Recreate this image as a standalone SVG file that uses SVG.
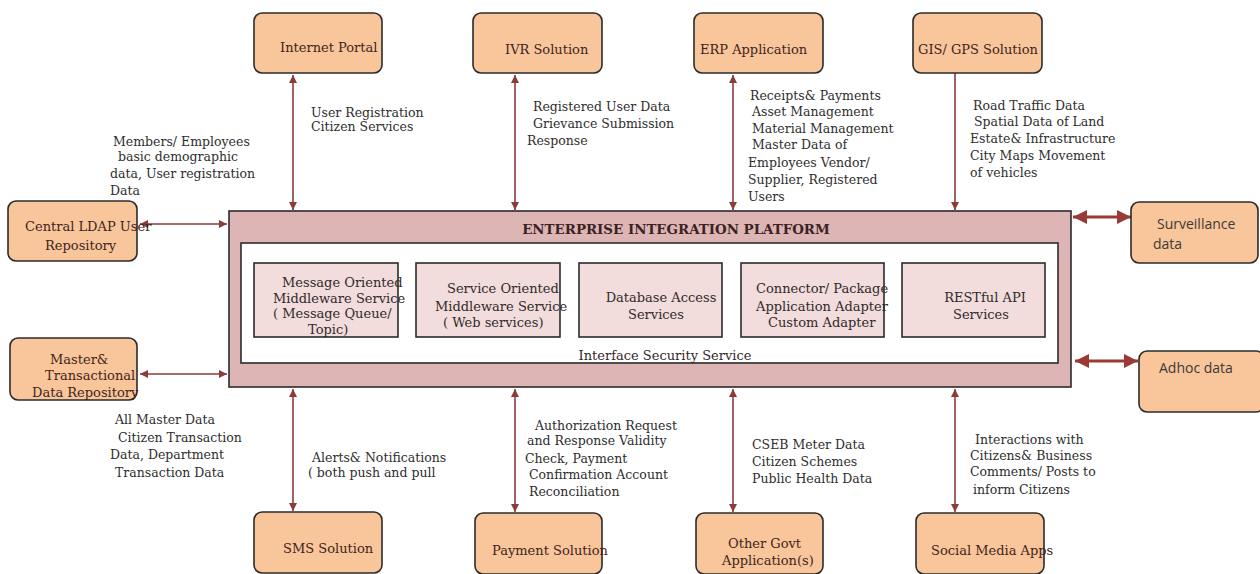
<svg xmlns="http://www.w3.org/2000/svg" width="1260" height="574" viewBox="0 0 1260 574">
<defs>
<style>
.box{fill:#f9c59b;stroke:#2b2b2b;stroke-width:1.6}
.nt{font-family:"DejaVu Serif","Liberation Serif",serif;font-size:13px;fill:#3e241c}
.lb{font-family:"DejaVu Serif","Liberation Serif",serif;font-size:12.5px;fill:#2e2e2e}
.st{font-family:"DejaVu Serif","Liberation Serif",serif;font-size:13px;fill:#302a2a}
.sans{font-family:"Open Sans","Liberation Sans",sans-serif;font-size:14px;fill:#3a3a3a}
.plat{fill:#ddb5b5;stroke:#2b2b2b;stroke-width:1.6}
.inner{fill:#ffffff;stroke:#2b2b2b;stroke-width:1.6}
.svc{fill:#f2dcdc;stroke:#2b2b2b;stroke-width:1.6}
.ln{stroke:#8c3b3b;stroke-width:1.6;fill:none}
.lnb{stroke:#9a3a34;stroke-width:3.2;fill:none}
</style>
<marker id="ah" viewBox="0 0 10 10" refX="10" refY="5" markerWidth="8" markerHeight="9" markerUnits="userSpaceOnUse" orient="auto-start-reverse">
<path d="M0,0 L10,5 L0,10 z" fill="#8c3b3b"/>
</marker>
<marker id="ahb" viewBox="0 0 10 10" refX="10" refY="5" markerWidth="14" markerHeight="14" markerUnits="userSpaceOnUse" orient="auto-start-reverse">
<path d="M0,0 L10,5 L0,10 z" fill="#9a3a34"/>
</marker>
</defs>
<rect width="1260" height="574" fill="#ffffff"/>

<g id="connectors">
<line class="ln" x1="293" y1="75" x2="293" y2="210" marker-start="url(#ah)" marker-end="url(#ah)"/>
<line class="ln" x1="515" y1="75" x2="515" y2="210" marker-start="url(#ah)" marker-end="url(#ah)"/>
<line class="ln" x1="733" y1="75" x2="733" y2="210" marker-start="url(#ah)" marker-end="url(#ah)"/>
<line class="ln" x1="955" y1="73" x2="955" y2="210" marker-end="url(#ah)"/>
<line class="ln" x1="293" y1="389" x2="293" y2="511" marker-start="url(#ah)" marker-end="url(#ah)"/>
<line class="ln" x1="515" y1="389" x2="515" y2="512" marker-start="url(#ah)" marker-end="url(#ah)"/>
<line class="ln" x1="733" y1="389" x2="733" y2="512" marker-start="url(#ah)" marker-end="url(#ah)"/>
<line class="ln" x1="955" y1="389" x2="955" y2="512" marker-start="url(#ah)" marker-end="url(#ah)"/>
<line class="ln" x1="140" y1="224" x2="227" y2="224" marker-start="url(#ah)" marker-end="url(#ah)"/>
<line class="ln" x1="140" y1="374" x2="227" y2="374" marker-start="url(#ah)" marker-end="url(#ah)"/>
<line class="lnb" x1="1073" y1="217" x2="1131" y2="217" marker-start="url(#ahb)" marker-end="url(#ahb)"/>
<line class="lnb" x1="1075" y1="361" x2="1138" y2="361" marker-start="url(#ahb)" marker-end="url(#ahb)"/>
</g>

<g id="platform">
<rect class="plat" x="229" y="211" width="842" height="176"/>
<text x="676" y="234" text-anchor="middle" font-family="DejaVu Serif,Liberation Serif,serif" font-size="13.4" font-weight="bold" fill="#3a2222">ENTERPRISE INTEGRATION PLATFORM</text>
<rect class="inner" x="241" y="243" width="817" height="120"/>
<text class="st" x="665" y="360" text-anchor="middle">Interface Security Service</text>
</g>

<g id="svc-mom">
<rect class="svc" x="254" y="263" width="144" height="74"/>
<text class="st" x="282" y="287">Message Oriented</text>
<text class="st" x="273" y="303">Middleware Service</text>
<text class="st" x="273" y="318">( Message Queue/</text>
<text class="st" x="308" y="334">Topic)</text>
</g>
<g id="svc-soa">
<rect class="svc" x="416" y="263" width="144" height="74"/>
<text class="st" x="447" y="293">Service Oriented</text>
<text class="st" x="435" y="311">Middleware Service</text>
<text class="st" x="443" y="327">( Web services)</text>
</g>
<g id="svc-db">
<rect class="svc" x="579" y="263" width="143" height="74"/>
<text class="st" x="661" y="302" text-anchor="middle">Database Access</text>
<text class="st" x="656" y="319" text-anchor="middle">Services</text>
</g>
<g id="svc-conn">
<rect class="svc" x="741" y="263" width="143" height="74"/>
<text class="st" x="756" y="293">Connector/ Package</text>
<text class="st" x="756" y="311">Application Adapter</text>
<text class="st" x="768" y="327">Custom Adapter</text>
</g>
<g id="svc-rest">
<rect class="svc" x="902" y="263" width="143" height="74"/>
<text class="st" x="985" y="302" text-anchor="middle">RESTful API</text>
<text class="st" x="981" y="319" text-anchor="middle">Services</text>
</g>

<g id="internet-portal">
<rect class="box" x="254" y="13" width="128" height="60" rx="8"/>
<text class="nt" x="280" y="52">Internet Portal</text>
</g>
<g id="ivr">
<rect class="box" x="473" y="13" width="129" height="60" rx="8"/>
<text class="nt" x="505" y="54">IVR Solution</text>
</g>
<g id="erp">
<rect class="box" x="694" y="13" width="129" height="60" rx="8"/>
<text class="nt" x="700" y="54">ERP Application</text>
</g>
<g id="gis">
<rect class="box" x="913" y="13" width="129" height="60" rx="8"/>
<text class="nt" x="918" y="54">GIS/ GPS Solution</text>
</g>

<g id="ldap">
<rect class="box" x="8" y="201" width="129" height="60" rx="8"/>
<text class="nt" x="25" y="231">Central LDAP User</text>
<text class="nt" x="45" y="250">Repository</text>
</g>
<g id="master">
<rect class="box" x="10" y="338" width="127" height="62" rx="8"/>
<text class="nt" x="50" y="364">Master&amp;</text>
<text class="nt" x="45" y="380">Transactional</text>
<text class="nt" x="32" y="397">Data Repository</text>
</g>

<g id="surveillance">
<rect class="box" x="1131" y="202" width="127" height="61" rx="8"/>
<text class="sans" x="1157" y="229">Surveillance</text>
<text class="sans" x="1153" y="249">data</text>
</g>
<g id="adhoc">
<rect class="box" x="1139" y="351" width="125" height="61" rx="8"/>
<text class="sans" x="1159" y="373">Adhoc data</text>
</g>

<g id="sms">
<rect class="box" x="254" y="512" width="128" height="61" rx="8"/>
<text class="nt" x="283" y="553">SMS Solution</text>
</g>
<g id="payment">
<rect class="box" x="475" y="513" width="127" height="61" rx="8"/>
<text class="nt" x="492" y="555">Payment Solution</text>
</g>
<g id="other-govt">
<rect class="box" x="696" y="513" width="127" height="61" rx="8"/>
<text class="nt" x="728" y="548">Other Govt</text>
<text class="nt" x="722" y="565">Application(s)</text>
</g>
<g id="social">
<rect class="box" x="916" y="513" width="128" height="61" rx="8"/>
<text class="nt" x="931" y="555">Social Media Apps</text>
</g>

<g id="labels">
<text class="lb" x="311" y="117">User Registration</text>
<text class="lb" x="311" y="131">Citizen Services</text>
<text class="lb" x="113" y="146">Members/  Employees</text>
<text class="lb" x="118" y="161">basic demographic</text>
<text class="lb" x="110" y="178">data,  User registration</text>
<text class="lb" x="110" y="195">Data</text>
<text class="lb" x="533" y="111">Registered User Data</text>
<text class="lb" x="533" y="128">Grievance Submission</text>
<text class="lb" x="527" y="145">Response</text>
<text class="lb" x="750" y="100">Receipts&amp; Payments</text>
<text class="lb" x="752" y="116">Asset Management</text>
<text class="lb" x="752" y="133">Material Management</text>
<text class="lb" x="752" y="149">Master Data of</text>
<text class="lb" x="748" y="167">Employees Vendor/</text>
<text class="lb" x="748" y="184">Supplier,  Registered</text>
<text class="lb" x="748" y="201">Users</text>
<text class="lb" x="973" y="110">Road Traffic Data</text>
<text class="lb" x="974" y="126">Spatial Data of Land</text>
<text class="lb" x="970" y="143">Estate&amp;  Infrastructure</text>
<text class="lb" x="970" y="160">City Maps  Movement</text>
<text class="lb" x="970" y="177">of vehicles</text>
<text class="lb" x="115" y="424">All Master Data</text>
<text class="lb" x="118" y="442">Citizen Transaction</text>
<text class="lb" x="110" y="459">Data,  Department</text>
<text class="lb" x="115" y="477">Transaction Data</text>
<text class="lb" x="312" y="462">Alerts&amp;  Notifications</text>
<text class="lb" x="308" y="477">( both push and pull</text>
<text class="lb" x="535" y="430">Authorization Request</text>
<text class="lb" x="527" y="445">and Response Validity</text>
<text class="lb" x="525" y="463">Check,  Payment</text>
<text class="lb" x="529" y="479">Confirmation Account</text>
<text class="lb" x="529" y="496">Reconciliation</text>
<text class="lb" x="752" y="449">CSEB Meter Data</text>
<text class="lb" x="752" y="466">Citizen Schemes</text>
<text class="lb" x="752" y="483">Public Health Data</text>
<text class="lb" x="975" y="444">Interactions with</text>
<text class="lb" x="970" y="460">Citizens&amp; Business</text>
<text class="lb" x="970" y="476">Comments/ Posts to</text>
<text class="lb" x="973" y="494">inform Citizens</text>
</g>
</svg>
